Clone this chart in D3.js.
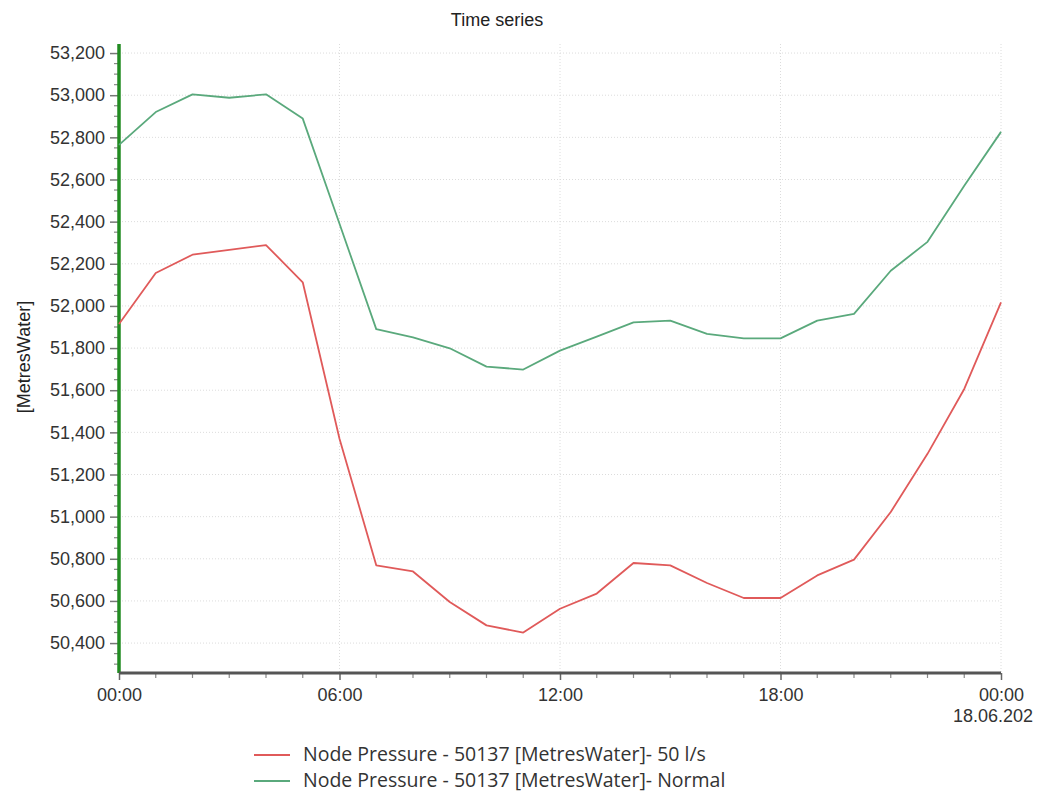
<!DOCTYPE html>
<html>
<head>
<meta charset="utf-8">
<script src="https://cdn.jsdelivr.net/npm/d3@7"></script>
<style>
  html, body { margin: 0; padding: 0; background: #fff; }
  svg { display: block; }
</style>
</head>
<body>
<svg id="chart" width="1037" height="791"></svg>
<script>
// ---- data ----
const times = ["00:00","01:00","02:00","03:00","04:00","05:00","06:00","07:00","08:00","09:00","10:00","11:00","12:00",
  "13:00","14:00","15:00","16:00","17:00","18:00","19:00","20:00","21:00","22:00","23:00","24:00"];
const flow50 = [51914, 52156, 52243, 52266, 52289, 52112, 51370, 50769, 50740, 50595, 50484, 50450, 50563,
  50635, 50780, 50769, 50685, 50614, 50614, 50721, 50796, 51022, 51298, 51606, 52017];
const normal = [52764, 52920, 53004, 52988, 53004, 52889, 52390, 51890, 51851, 51799, 51712, 51698, 51788,
  51854, 51922, 51930, 51867, 51846, 51846, 51930, 51962, 52167, 52304, 52570, 52826];
const yTicks = [50400, 50600, 50800, 51000, 51200, 51400, 51600, 51800, 52000, 52200, 52400, 52600, 52800, 53000, 53200];
const seriesNames = ["Node Pressure - 50137 [MetresWater]- 50 l/s", "Node Pressure - 50137 [MetresWater]- Normal"];
const seriesColors = ["#e05a5a", "#5aa97c"];
const title = "Time series";
const yLabel = "[MetresWater]";
const dateLabel = "18.06.202";

// ---- layout ----
const svg = d3.select("#chart");
const pLeft = 119, pRight = 1001, pTop = 44, pBottom = 673;
const day0 = new Date(2020, 5, 17, 0, 0);
const day1 = new Date(2020, 5, 18, 0, 0);
const parseT = s => { const [h, m] = s.split(":").map(Number); return new Date(day0.getTime() + (h * 60 + m) * 60000); };

const x = d3.scaleTime().domain([day0, day1]).range([pLeft, pRight]);
const y = d3.scaleLinear().domain([50258, 53243]).range([pBottom, pTop]);

const font = "'Liberation Sans', Arial, sans-serif";
const fs = 18;

// grid
const grid = svg.append("g");
grid.selectAll("line.h").data(yTicks).join("line")
  .attr("x1", pLeft).attr("x2", pRight)
  .attr("y1", d => y(d)).attr("y2", d => y(d))
  .attr("stroke", "#dcdcdc").attr("stroke-width", 1).attr("stroke-dasharray", "1,2");
const xMajor = d3.timeHour.every(6).range(day0, new Date(day1.getTime() + 1));
grid.selectAll("line.v").data(xMajor.filter(d => d > day0)).join("line")
  .attr("x1", d => x(d)).attr("x2", d => x(d))
  .attr("y1", pTop).attr("y2", pBottom)
  .attr("stroke", "#dcdcdc").attr("stroke-width", 1).attr("stroke-dasharray", "1,2");

// y axis
const yMinor = d3.range(50300, 53250, 50).filter(v => v % 200 !== 0);
const yAxisG = svg.append("g").attr("transform", `translate(${pLeft},0)`);
yAxisG.call(d3.axisLeft(y).tickValues(yTicks).tickSize(9).tickPadding(5)
  .tickFormat(d3.format(",")));
yAxisG.select(".domain").remove();
yAxisG.selectAll(".tick line").attr("stroke", "#777").attr("stroke-width", 1.5);
yAxisG.selectAll(".tick text").attr("font-family", font).attr("font-size", fs).attr("fill", "#333");
yAxisG.selectAll("line.minor").data(yMinor).join("line").attr("class", "minor")
  .attr("x1", -5).attr("x2", 0).attr("y1", d => y(d)).attr("y2", d => y(d))
  .attr("stroke", "#888").attr("stroke-width", 1.2);
yAxisG.append("line").attr("x1", 0).attr("x2", 0).attr("y1", pTop).attr("y2", pBottom)
  .attr("stroke", "#228b22").attr("stroke-width", 3.5);

// x axis
const xMinor = d3.timeMinute.every(90).range(day0, day1).filter(d => d.getHours() % 6 !== 0 || d.getMinutes() !== 0);
const xAxisG = svg.append("g").attr("transform", `translate(0,${pBottom})`);
xAxisG.call(d3.axisBottom(x).tickValues(xMajor).tickSize(7).tickPadding(8)
  .tickFormat(d3.timeFormat("%H:%M")));
xAxisG.select(".domain").remove();
xAxisG.selectAll(".tick line").attr("stroke", "#666").attr("stroke-width", 1.5);
xAxisG.selectAll(".tick text").attr("font-family", font).attr("font-size", fs).attr("fill", "#333");
xAxisG.selectAll("line.minor").data(xMinor).join("line").attr("class", "minor")
  .attr("x1", d => x(d)).attr("x2", d => x(d)).attr("y1", 0).attr("y2", 5)
  .attr("stroke", "#888").attr("stroke-width", 1.2);
xAxisG.append("line").attr("x1", pLeft).attr("x2", pRight).attr("y1", 0).attr("y2", 0)
  .attr("stroke", "#555").attr("stroke-width", 3);
xAxisG.append("text").attr("x", x(day1) - 8).attr("y", 49).attr("text-anchor", "middle")
  .attr("font-family", font).attr("font-size", fs).attr("fill", "#333").text(dateLabel);

// lines
const line = d3.line().x(d => x(d.t)).y(d => y(d.v));
[flow50, normal].forEach((vals, i) => {
  const pts = vals.map((v, k) => ({ t: parseT(times[k]), v }));
  svg.append("path").datum(pts).attr("d", line)
    .attr("fill", "none").attr("stroke", seriesColors[i]).attr("stroke-width", 1.8)
    .attr("stroke-linejoin", "round");
});

// title
svg.append("text").attr("x", 497).attr("y", 26).attr("text-anchor", "middle")
  .attr("font-family", font).attr("font-size", fs).attr("fill", "#222").text(title);

// y label
svg.append("text").attr("transform", `translate(30,357) rotate(-90)`).attr("text-anchor", "middle")
  .attr("font-family", font).attr("font-size", fs).attr("fill", "#222").text(yLabel);

// legend
const legend = svg.append("g");
seriesNames.forEach((name, i) => {
  const ly = 755 + i * 26;
  legend.append("line").attr("x1", 254).attr("x2", 290).attr("y1", ly).attr("y2", ly)
    .attr("stroke", seriesColors[i]).attr("stroke-width", 2);
  legend.append("text").attr("x", 303).attr("y", ly + 5.5)
    .attr("font-family", "'Open Sans', sans-serif").attr("font-size", 19.5).attr("fill", "#333").text(name);
});
</script>
</body>
</html>
